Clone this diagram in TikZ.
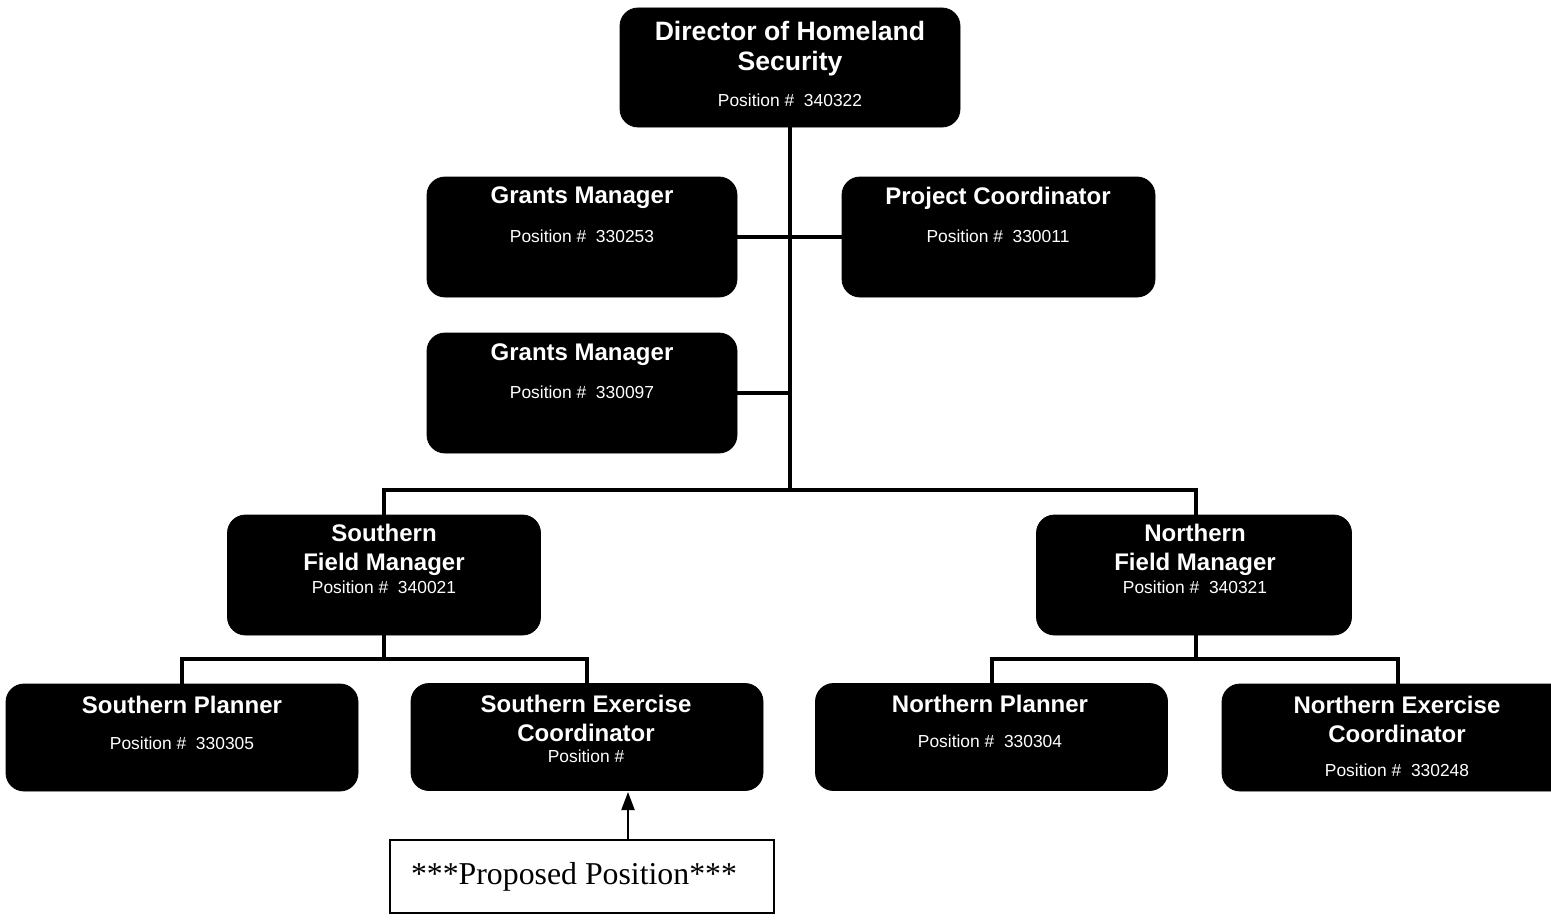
\documentclass[tikz,border=0pt]{standalone}
\usepackage{fontspec}
\setmainfont{Liberation Sans}
\newfontfamily\propfont{Liberation Serif}
\usetikzlibrary{arrows.meta}
\tikzstyle{unit} = [draw=black,fill=black,rounded corners=9pt,minimum width=155pt,minimum height=60pt,inner sep=0pt]
\tikzstyle{low} = [unit,minimum width=176pt,minimum height=53.5pt]
\tikzstyle{ttl} = [text=white,align=center,font=\bfseries\fontsize{12}{14.5}\selectfont,inner sep=0pt]
\tikzstyle{posno} = [text=white,font=\fontsize{8.7}{10}\selectfont,inner sep=0pt]
\tikzstyle{line} = [line width=2pt]
\tikzstyle{arrow} = [->,>={Triangle[length=9pt,width=6.5pt]},line width=1pt]

\begin{document}
\begin{tikzpicture}[x=0.5pt,y=-0.5pt]
        \clip (0,0) rectangle (1551,920);
        \fill[white] (0,0) rectangle (1551,920);

        % boxes
        \node[unit, minimum width=170pt, minimum height=59.5pt] at (790,67.5) (dir) {};
        \node[unit] at (582,237) (gm1) {};
        \node[unit, minimum width=156.5pt] at (998.5,237) (pc) {};
        \node[unit] at (582,393) (gm2) {};
        \node[unit, minimum width=156.5pt] at (384,575) (sfm) {};
        \node[unit, minimum width=157.5pt] at (1194,575) (nfm) {};
        \node[low] at (182,737.5) (sp) {};
        \node[low] at (587,737) (sec) {};
        \node[low] at (991.5,737) (np) {};
        \node[low] at (1398,737.5) (nec) {};
        \node[draw, line width=0.7pt, minimum width=192pt, minimum height=36.5pt, font=\propfont\fontsize{15.9}{18}\selectfont] at (582,876.5) (prop) {***Proposed Position***\kern8pt};

        % texts
        \node[ttl, font=\bfseries\fontsize{13.3}{15}\selectfont] at (790,49) (dir-t) {Director of Homeland\\Security};
        \node[posno] at (790,100) (dir-p) {Position \#\ \ 340322};
        \node[ttl] at (582,198) (gm1-t) {Grants Manager};
        \node[posno] at (582,236) (gm1-p) {Position \#\ \ 330253};
        \node[ttl] at (998,198) (pc-t) {Project Coordinator};
        \node[posno] at (998,236) (pc-p) {Position \#\ \ 330011};
        \node[ttl] at (582,355) (gm2-t) {Grants Manager};
        \node[posno] at (582,392) (gm2-p) {Position \#\ \ 330097};
        \node[ttl] at (384,550) (sfm-t) {Southern\\Field Manager};
        \node[posno] at (384,587) (sfm-p) {Position \#\ \ 340021};
        \node[ttl] at (1195,550) (nfm-t) {Northern\\Field Manager};
        \node[posno] at (1195,587) (nfm-p) {Position \#\ \ 340321};
        \node[ttl] at (182,705) (sp-t) {Southern Planner};
        \node[posno] at (182,743) (sp-p) {Position \#\ \ 330305};
        \node[ttl] at (586,718) (sec-t) {Southern Exercise\\Coordinator};
        \node[posno] at (586,756) (sec-p) {Position \#};
        \node[ttl] at (990,704) (np-t) {Northern Planner};
        \node[posno] at (990,741) (np-p) {Position \#\ \ 330304};
        \node[ttl] at (1397,719) (nec-t) {Northern Exercise\\Coordinator};
        \node[posno] at (1397,770) (nec-p) {Position \#\ \ 330248};

        % joints
        \coordinate (j1) at (790,490);
        \coordinate (sj) at (384,659);
        \coordinate (nj) at (1196,659);
        \coordinate (pp) at (628,792);

        % lines
        \draw[line] (dir.south) -- (j1);
        \draw[line] (gm1.east) -- (pc.west);
        \draw[line] (gm2.east) -- (gm2.east -| j1);
        \draw[line] (sfm.north) |- (j1) -| (nfm.north -| nj);
        \draw[line] (sfm.south) -- (sj);
        \draw[line] (sp.north) |- (sj) -| (sec.north);
        \draw[line] (nfm.south -| nj) -- (nj);
        \draw[line] (np.north) |- (nj) -| (nec.north);
        \draw[arrow] (prop.north -| pp) -- (pp);

    \end{tikzpicture}
\end{document}
